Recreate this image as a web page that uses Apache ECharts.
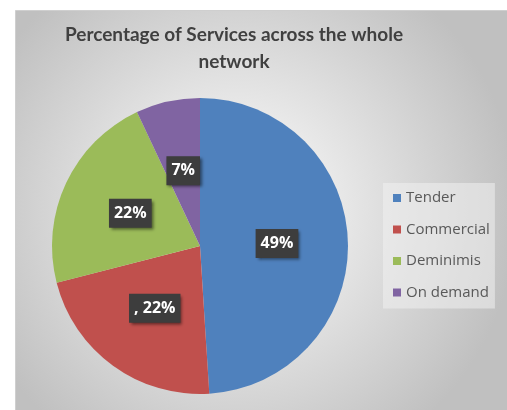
<!DOCTYPE html>
<html>
<head>
<meta charset="utf-8">
<script src="https://cdn.jsdelivr.net/npm/echarts@6/dist/echarts.min.js"></script>
<style>
html,body{margin:0;padding:0;background:#fff;}
#chart{width:507px;height:410px;}
</style>
</head>
<body>
<div id="chart"></div>
<script>
var categories = ['Tender', 'Commercial', 'Deminimis', 'On demand'];
var values = [49, 22, 22, 7];
var labelPrefixes = ['', ', ', '', ''];
var colors = ['#4f81bd', '#c0504d', '#9bbb59', '#8064a2'];
var titleText = 'Percentage of Services across the whole\nnetwork';

var chart = echarts.init(document.getElementById('chart'));
var data = categories.map(function (c, i) {
  return { name: c, value: values[i], itemStyle: { color: colors[i] } };
});
chart.setOption({
  animation: false,
  graphic: [{
    type: 'rect',
    z: -10,
    shape: { x: 15.5, y: 10.5, width: 492, height: 400 },
    style: {
      fill: {
        type: 'radial', x: 0.45, y: 0.5, r: 0.7,
        colorStops: [{ offset: 0, color: '#ffffff' }, { offset: 1, color: '#c0c0c0' }]
      },
      stroke: '#cfcfcf', lineWidth: 1
    }
  }],
  title: {
    text: titleText,
    left: 229, top: 16, textAlign: 'center',
    textStyle: { fontFamily: 'Lato', fontWeight: 'bold', fontSize: 19, color: '#404040', lineHeight: 27 }
  },
  legend: {
    orient: 'vertical',
    left: 383, top: 183,
    padding: [7, 5, 8, 10],
    backgroundColor: 'rgba(240,240,240,0.55)',
    icon: 'rect',
    itemWidth: 8, itemHeight: 8,
    itemGap: 15.5,
    textStyle: { fontFamily: 'Open Sans', fontSize: 15, color: '#595959', lineHeight: 16 },
    data: categories
  },
  series: [{
    type: 'pie',
    center: [200, 246],
    radius: 148,
    startAngle: 90,
    clockwise: true,
    data: data,
    itemStyle: { borderWidth: 0 },
    label: {
      show: true,
      position: 'inside',
      formatter: function (p) { return labelPrefixes[p.dataIndex] + p.value + '%'; },
      color: '#ffffff',
      fontFamily: 'Open Sans', fontWeight: 'bold', fontSize: 16, lineHeight: 17,
      backgroundColor: '#3d3d3d',
      padding: [6, 5, 6, 5],
      shadowColor: 'rgba(0,0,0,0.5)', shadowBlur: 3, shadowOffsetX: 2, shadowOffsetY: 2
    },
    labelLine: { show: false },
    emphasis: { disabled: true }
  }]
});
</script>
</body>
</html>
